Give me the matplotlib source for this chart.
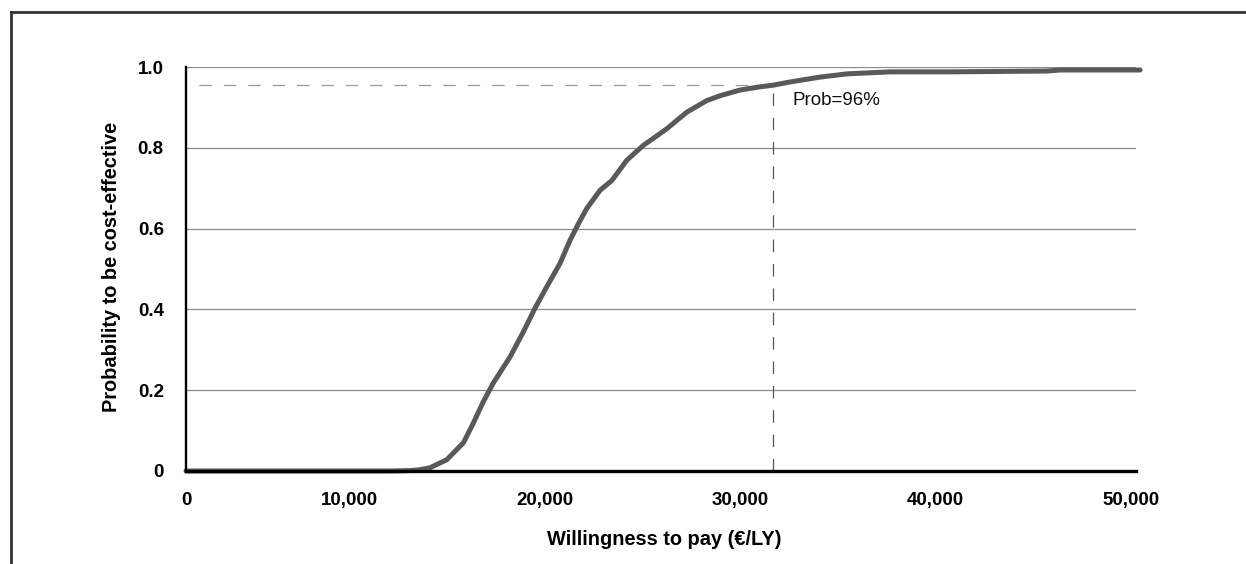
import matplotlib
matplotlib.use("Agg")
import matplotlib.pyplot as plt
from matplotlib.lines import Line2D

plt.rcParams['font.family'] = ['Liberation Sans', 'DejaVu Sans']

# acceptability curve
wtp = [1660, 12100, 13120, 13600, 14140, 15000, 15850, 16360, 16870, 17380,
       18240, 18920, 19510, 20110, 20790, 21300, 21730, 22160, 22840, 23440,
       24200, 25050, 26250, 27270, 28300, 28980, 30000, 31020, 31690, 32560,
       34090, 35470, 37670, 40740, 45700, 46370, 50460]
prob = [0.0, 0.0, 0.001, 0.003, 0.008, 0.028, 0.070, 0.119, 0.172, 0.218,
        0.283, 0.345, 0.403, 0.456, 0.514, 0.571, 0.612, 0.650, 0.695, 0.719,
        0.769, 0.806, 0.847, 0.888, 0.917, 0.929, 0.943, 0.951, 0.955, 0.963,
        0.975, 0.983, 0.988, 0.988, 0.990, 0.9926, 0.9926]

x_ticks = [0, 10000, 20000, 30000, 40000, 50000]
x_labels = ['0', '10,000', '20,000', '30,000', '40,000', '50,000']
y_ticks = [0, 0.2, 0.4, 0.6, 0.8, 1.0]
y_labels = ['0', '0.2', '0.4', '0.6', '0.8', '1.0']

x_start, x_end = 1660, 50250
mark_x, mark_y = 31690, 0.955
mark_text = 'Prob=96%'

fig = plt.figure(figsize=(12.46, 5.64), dpi=100)
ax = fig.add_axes([0.1493, 0.1649, 0.7624, 0.7163])

for yv in y_ticks[1:]:
    ax.axhline(yv, color='#8a8a8a', lw=0.9, zorder=1)

ax.plot([2330, mark_x], [mark_y, mark_y], color='#9a9a9a', lw=0.9,
        dashes=(10, 9.5), zorder=2)
ax.plot([mark_x, mark_x], [0, mark_y], color='#555555', lw=0.9,
        dashes=(10, 9.5), zorder=2)

ax.plot(wtp, prob, color='#595959', lw=3.6, solid_capstyle='round',
        solid_joinstyle='round', clip_on=False, zorder=3)

ax.text(32700, 0.918, mark_text, fontsize=13.5, va='center', ha='left',
        color='#111111')

ax.set_xlim(x_start, x_end)
ax.set_ylim(0, 1.0)
tick_pos = [x_start] + x_ticks[1:]
ax.set_xticks(tick_pos)
ax.set_xticklabels(x_labels, fontsize=13.5, fontweight='bold')
ax.set_yticks(y_ticks)
ax.set_yticklabels(y_labels, fontsize=13.5, fontweight='bold')
ax.tick_params(axis='x', length=0, pad=15)
ax.tick_params(axis='y', length=0, pad=16)

for s in ['top', 'right']:
    ax.spines[s].set_visible(False)
ax.spines['left'].set_linewidth(1.7)
ax.spines['bottom'].set_linewidth(2.4)
ax.spines['left'].set_zorder(4)
ax.spines['bottom'].set_zorder(4)

ax.set_xlabel('Willingness to pay (€/LY)', fontsize=14.4, fontweight='bold')
ax.set_ylabel('Probability to be cost-effective', fontsize=14.4, fontweight='bold')
ax.xaxis.set_label_coords(0.503, -0.147)
ax.yaxis.set_label_coords(-0.068, 0.505)

# outer frame (left and top edges)
fig.add_artist(Line2D([10.5 / 1246, 10.5 / 1246], [0, 1 - 11.5 / 564],
                      color='#333333', lw=2.0))
fig.add_artist(Line2D([10.5 / 1246, 1], [1 - 11.5 / 564, 1 - 11.5 / 564],
                      color='#333333', lw=2.0))

fig.savefig('out.png', dpi=100)
